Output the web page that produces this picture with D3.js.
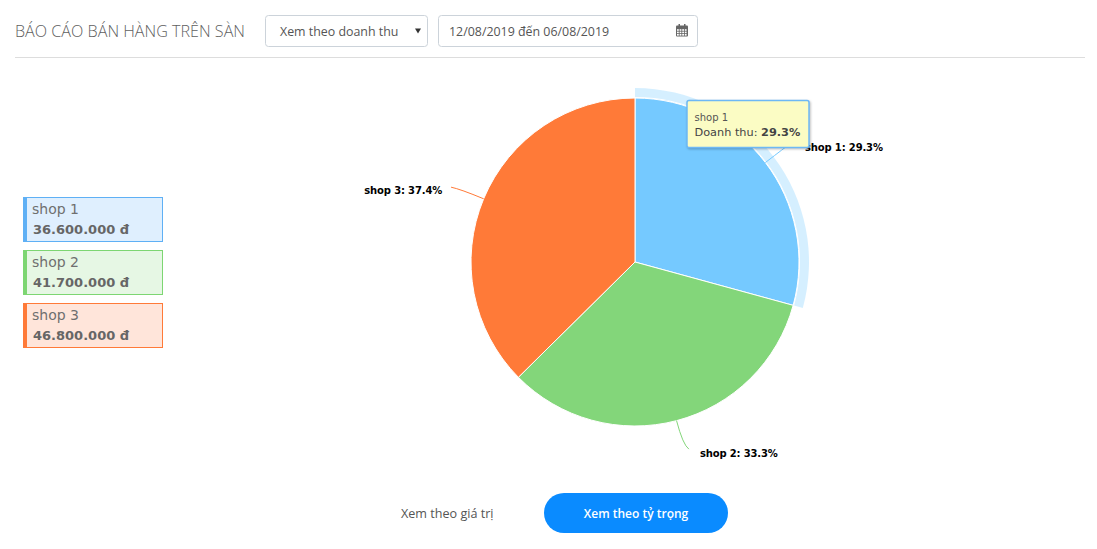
<!DOCTYPE html>
<html><head><meta charset="utf-8">
<script src="https://cdn.jsdelivr.net/npm/d3@7/dist/d3.min.js"></script>
<style>html,body{margin:0;padding:0;background:#fff}svg{display:block}</style>
</head><body><svg id="c" width="1097" height="549"></svg>
<script>
const shops = ["shop 1", "shop 2", "shop 3"];
const revenue = [36600000, 41700000, 46800000];
const revenueLabels = ["36.600.000 đ", "41.700.000 đ", "46.800.000 đ"];
const pctLabels = ["29.3%", "33.3%", "37.4%"];
const sliceColors = ["#75c9ff", "#83d67a", "#ff7a38"];
const legendEdge = ["#5fb0f5", "#7dd672", "#ff7a38"];
const legendFill = ["#dfeffe", "#e6f7e4", "#ffe5da"];

const svg = d3.select("#c");
const F = "'Open Sans',sans-serif", V = "'DejaVu Sans',Verdana,sans-serif";
const txt = (x,y,s,size,fill,font,extra={}) => {
  const t = svg.append("text").attr("x",x).attr("y",y).text(s)
    .attr("font-size",size).attr("fill",fill).attr("font-family",font);
  for (const k in extra) t.attr(k,extra[k]);
  return t;
};
const box = (x,y,w,h,r,fill,stroke,extra={}) => {
  const t = svg.append("rect").attr("x",x).attr("y",y).attr("width",w).attr("height",h)
    .attr("rx",r).attr("fill",fill).attr("stroke",stroke);
  for (const k in extra) t.attr(k,extra[k]);
  return t;
};

// header
txt(15,37,"BÁO CÁO BÁN HÀNG TRÊN SÀN",16.15,"#5f5f5f",F,{"font-weight":300});
box(265.5,15.5,162,31,3,"#fff","#ccd3da");
txt(280,36,"Xem theo doanh thu",12.4,"#555",F);
svg.append("path").attr("d",d3.line()([[415,28.5],[421,28.5],[418,33.5]])+"Z").attr("fill","#333");
box(438.5,15.5,259,31,3,"#fff","#ccd3da");
txt(449,36,"12/08/2019 đến 06/08/2019",12.4,"#555",F);
// calendar icon
const cal = svg.append("g").attr("transform","translate(676,24)").attr("fill","#666");
cal.append("rect").attr("x",0).attr("y",1.5).attr("width",12).attr("height",11).attr("rx",1);
cal.append("rect").attr("x",2.5).attr("y",0).attr("width",1.5).attr("height",3);
cal.append("rect").attr("x",8).attr("y",0).attr("width",1.5).attr("height",3);
d3.range(3).forEach(r=>d3.range(4).forEach(c=>cal.append("rect")
  .attr("x",1+c*2.6).attr("y",5.2+r*2.4).attr("width",1.8).attr("height",1.6).attr("fill","#fff")));
svg.append("line").attr("x1",15).attr("x2",1085).attr("y1",57.5).attr("y2",57.5).attr("stroke","#ddd");

// legend
shops.forEach((s,i)=>{
  const y = 197 + i*53;
  box(23.5,y+.5,139,44,0,legendFill[i],legendEdge[i]);
  svg.append("rect").attr("x",23).attr("y",y).attr("width",4).attr("height",45).attr("fill",legendEdge[i]);
  txt(32,y+17,s,14,"#6f6f6f",V);
  txt(33,y+37,revenueLabels[i],13,"#666",V,{"font-weight":"bold"});
});

// pie
const cx = 635, cy = 262, R = 164;
const g = svg.append("g").attr("transform",`translate(${cx},${cy})`);
const arcs = d3.pie().sort(null).value(d=>d)(revenue);
const arc = d3.arc().innerRadius(0).outerRadius(R);
// hover halo
g.append("path").attr("d",d3.arc().innerRadius(R+1).outerRadius(R+10)(arcs[0]))
  .attr("fill",sliceColors[0]).attr("fill-opacity",0.3);
g.selectAll("path.s").data(arcs).join("path").attr("class","s")
  .attr("d",arc).attr("fill",(d,i)=>sliceColors[i]).attr("stroke","#fff").attr("stroke-width",1);

// connectors and labels
const polar = (a,r)=>[r*Math.sin(a), -r*Math.cos(a)];
const labelAnchor = ["start","start","end"];
const endNudge = [[0,0],[4.5,-1.5],[-4,0.3]];
const textNudge = [[15,7],[11,8],[-9,7]];
arcs.forEach((d,i)=>{
  const m = (d.startAngle+d.endAngle)/2;
  const p0 = polar(m,R), p1 = polar(m,R+25), p2 = polar(m,R+31);
  const end = [p2[0]+endNudge[i][0], p2[1]+endNudge[i][1]];
  g.append("path").attr("fill","none").attr("stroke",sliceColors[i]).attr("stroke-width",1)
    .attr("d",`M${p0}Q${p1} ${end}`);
  g.append("text").attr("x",end[0]+textNudge[i][0]).attr("y",end[1]+textNudge[i][1])
    .attr("text-anchor",labelAnchor[i])
    .attr("font-family",V).attr("font-size",10).attr("font-weight","bold").attr("fill","#000")
    .attr("letter-spacing",-0.15)
    .text(`${shops[i]}: ${pctLabels[i]}`);
});

// tooltip
box(687,100.5,122,47,2,"#fbfcc4","#6db8f5",{"stroke-width":1.5,style:"filter:drop-shadow(1px 1px 1px rgba(0,0,0,.25))"});
txt(694.5,121,shops[0],10,"#555",V);
const tt = txt(694.5,135.5,"",11.3,"#444",V);
tt.append("tspan").text("Doanh thu: ");
tt.append("tspan").attr("font-weight","bold").text(pctLabels[0]);

// bottom toggle
txt(401,518,"Xem theo giá trị",12.6,"#555",F);
box(544,493,184,40,20,"#0a8bff","none");
txt(636,518,"Xem theo tỷ trọng",12,"#fff",F,{"text-anchor":"middle","font-weight":600});
</script></body></html>
